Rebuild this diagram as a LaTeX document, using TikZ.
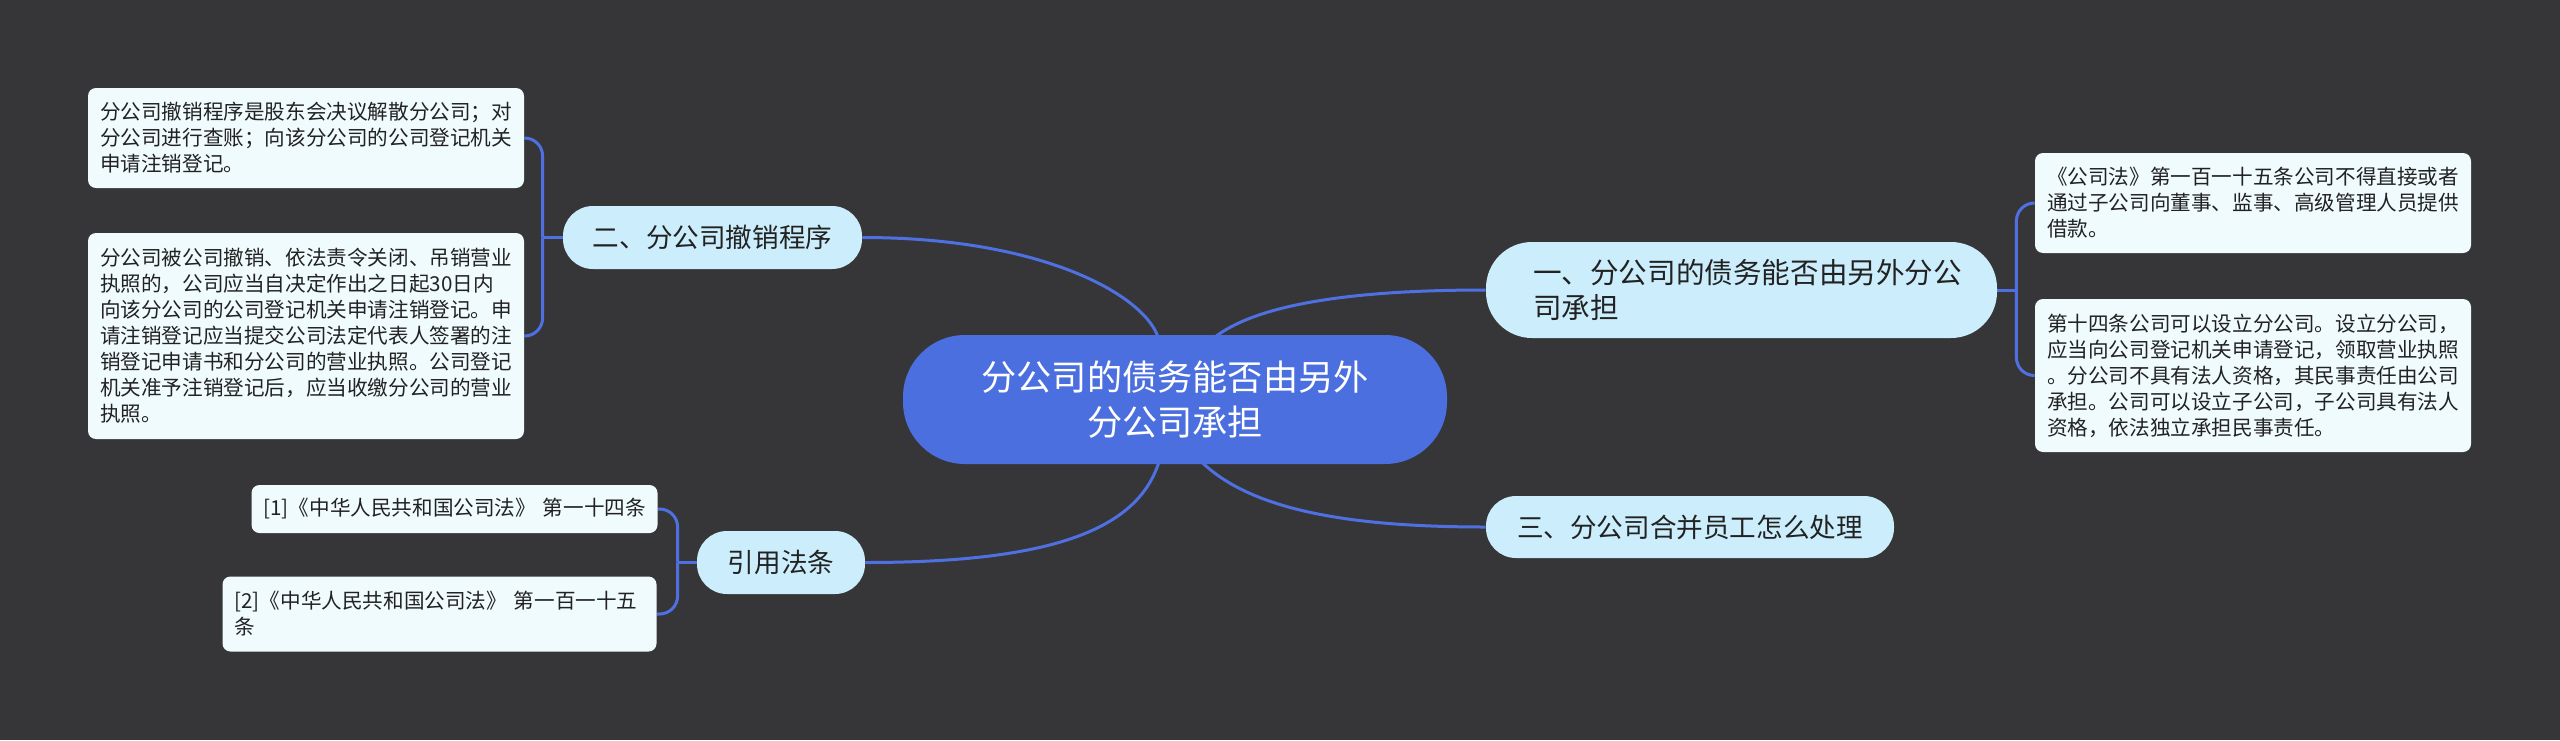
\documentclass[tikz,border=0pt]{standalone}
\usepackage{fontspec}
\setmainfont{Noto Sans CJK SC}
\usetikzlibrary{calc}
\definecolor{bgc}{RGB}{54,54,56}
\definecolor{cfill}{RGB}{76,111,223}
\definecolor{lc}{RGB}{78,112,224}
\definecolor{bfill}{RGB}{204,238,252}
\definecolor{lfill}{RGB}{240,251,254}
\definecolor{tc}{RGB}{34,34,34}
\pgfdeclarelayer{bgfill}
\pgfdeclarelayer{lines}
\pgfsetlayers{bgfill,lines,main}
\begin{document}
\begin{tikzpicture}[x=0.5pt,y=-0.5pt,
  centerbox/.style={fill=cfill, text=white, rounded corners=31pt, minimum width=272pt, minimum height=64.5pt, inner sep=0pt, align=center, font=\fontsize{17.6pt}{22.5pt}\selectfont},
  branchbox/.style={fill=bfill, text=tc, inner sep=0pt, align=center, font=\fontsize{13.3pt}{16.5pt}\selectfont},
  leafbox/.style={fill=lfill, text=tc, rounded corners=4pt, inner xsep=6pt, inner ysep=0pt, align=left, font=\fontsize{10.3pt}{13pt}\selectfont},
  conn/.style={draw=lc, line width=1.5pt},
  brk/.style={draw=lc, line width=1.5pt, rounded corners=9pt},
]
\begin{pgfonlayer}{bgfill}
\path[use as bounding box, fill=bgc] (0,0) rectangle (2560,740);
\end{pgfonlayer}

% center
\node[centerbox] (c) at (1175,399.5) {分公司的债务能否由另外\\分公司承担};

% branches
\node[branchbox, rounded corners=23pt, minimum width=255.5pt, minimum height=48pt,
      inner xsep=23.5pt, text width=208.5pt, align=left,
      font=\fontsize{14.3pt}{17.5pt}\selectfont] (b1) at (1741.5,290)
      {一、分公司的债务能否由另外分公\\司承担};
\node[branchbox, rounded corners=15pt, minimum width=149.5pt, minimum height=31.5pt] (b2) at (712.5,237.5) {二、分公司撤销程序};
\node[branchbox, rounded corners=15pt, minimum width=204pt, minimum height=31pt] (b3) at (1690,527) {三、分公司合并员工怎么处理};
\node[branchbox, rounded corners=15pt, minimum width=84pt, minimum height=31.5pt] (b4) at (781,562.5) {引用法条};

% leaves
\node[leafbox, text width=206pt, minimum height=50pt] (L1) at (306,138)
  {分公司撤销程序是股东会决议解散分公司；对\\分公司进行查账；向该分公司的公司登记机关\\申请注销登记。};
\node[leafbox, text width=206pt, minimum height=103pt] (L2) at (306,336)
  {分公司被公司撤销、依法责令关闭、吊销营业\\执照的，公司应当自决定作出之日起30日内\\向该分公司的公司登记机关申请注销登记。申\\请注销登记应当提交公司法定代表人签署的注\\销登记申请书和分公司的营业执照。公司登记\\机关准予注销登记后，应当收缴分公司的营业\\执照。};
\node[leafbox, text width=191pt, minimum height=24pt] (C1) at (454.5,509)
  {[1]《中华人民共和国公司法》~第一十四条};
\node[leafbox, text width=205pt, minimum height=37.5pt] (C2) at (439.5,614)
  {[2]《中华人民共和国公司法》~第一百一十五\\条};
\node[leafbox, text width=206pt, minimum height=50pt] (R1) at (2253,203)
  {《公司法》第一百一十五条公司不得直接或者\\通过子公司向董事、监事、高级管理人员提供\\借款。};
\node[leafbox, text width=206pt, minimum height=76.5pt] (R2) at (2253,375.5)
  {第十四条公司可以设立分公司。设立分公司，\\应当向公司登记机关申请登记，领取营业执照\\。分公司不具有法人资格，其民事责任由公司\\承担。公司可以设立子公司，子公司具有法人\\资格，依法独立承担民事责任。};

% junctions
\coordinate (j1) at ($(b1.east)+(19,0)$);
\coordinate (j2) at ($(b2.west)+(-20,0)$);
\coordinate (j4) at ($(b4.west)+(-19,0)$);

\begin{pgfonlayer}{lines}
\draw[conn] ($(c.north)+(-16,6)$) .. controls ($(c.north)+(-25,-35)$) and ($(b2.east)+(188,0)$) .. (b2.east);
\draw[conn] ($(c.north)+(38,4)$) .. controls ($(c.north)+(80,-30)$) and ($(b1.west)+(-136,0)$) .. (b1.west);
\draw[conn] ($(c.south)+(-15,-6)$) .. controls ($(c.south)+(-35,66)$) and ($(b4.east)+(185,0)$) .. (b4.east);
\draw[conn] ($(c.south)+(25,-4)$) .. controls ($(c.south)+(75,46)$) and ($(b3.west)+(-136,0)$) .. (b3.west);

\draw[conn] (b1.east) -- (j1);
\draw[brk] (j1) |- (R1.west);
\draw[brk] (j1) |- (R2.west);
\draw[conn] (b2.west) -- (j2);
\draw[brk] (j2) |- (L1.east);
\draw[brk] (j2) |- (L2.east);
\draw[conn] (b4.west) -- (j4);
\draw[brk] (j4) |- (C1.east);
\draw[brk] (j4) |- (C2.east);
\end{pgfonlayer}
\end{tikzpicture}
\end{document}
